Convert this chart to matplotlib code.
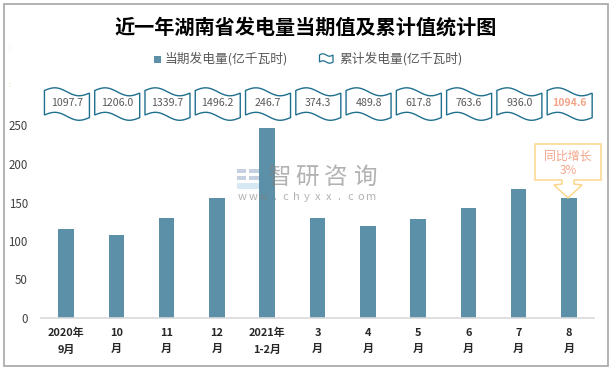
import numpy as np
import matplotlib
matplotlib.use("Agg")
import matplotlib.pyplot as plt
from matplotlib.patches import Polygon, Rectangle

plt.rcParams['font.family'] = ['Noto Sans CJK SC', 'DejaVu Sans']

title = "近一年湖南省发电量当期值及累计值统计图"
categories = ["2020年\n9月", "10\n月", "11\n月", "12\n月", "2021年\n1-2月", "3\n月", "4\n月", "5\n月", "6\n月", "7\n月", "8\n月"]
current = [115.5, 107.8, 130, 155.8, 246.7, 130, 119.5, 128.6, 143, 167.5, 155.8]
cumulative = ["1097.7", "1206.0", "1339.7", "1496.2", "246.7", "374.3", "489.8", "617.8", "763.6", "936.0", "1094.6"]
yticks = [0, 50, 100, 150, 200, 250]

bar_color = "#5b90a8"
wave_color = "#1f6f8f"
text_gray = "#595959"
salmon = "#f4a58a"
yellow = "#fbd78c"
W, H = 613, 370

fig = plt.figure(figsize=(W / 100, H / 100), dpi=100)

# full figure overlay in pixels, for the decorations
ov = fig.add_axes([0, 0, 1, 1], zorder=0)
ov.set_xlim(0, W)
ov.set_ylim(H, 0)
ov.axis('off')
ov.add_patch(Rectangle((3.7, 4.3), 604.3, 361.7, fc='white', ec='#a6a6a6', lw=1.2))

for y in (48, 85):
    ov.text(9, y, ":", fontsize=5, color='#f0c890', ha='center', va='center')

ax = fig.add_axes([41 / W, 1 - 318 / H, 553 / W, 192.5 / H], zorder=1)
ax.patch.set_alpha(0)
x = np.arange(len(categories))
ax.bar(x, current, width=0.31, color=bar_color)
ax.set_xlim(-0.5, len(categories) - 0.5)
ax.set_ylim(0, 250)
ax.set_yticks(yticks)
ax.set_xticks(x)
ax.set_xticklabels(categories, fontsize=7.9, fontweight='bold', color='#262626', linespacing=1.8)
ax.tick_params(axis='y', length=0, labelsize=8.3, labelcolor='#404040', pad=9.5)
ax.tick_params(axis='x', length=0, pad=7)
for s in ('top', 'right', 'left'):
    ax.spines[s].set_visible(False)
ax.spines['bottom'].set_color('#d9d9d9')
ax.spines['bottom'].set_linewidth(1.2)

# wavy boxes above the bars, y given in px on the overlay
t = np.linspace(0, 1, 40)
wave = -3.3 * np.sin(2 * np.pi * t) + 2.6 * t


def px_x(i):
    return 41 + (i + 0.5) * 553 / len(categories)


def wave_box(ov_ax, cx, top, bottom, half=22.5):
    xs = cx - half + 2 * half * t
    upper = np.column_stack([xs, top + wave])
    lower = np.column_stack([xs, bottom + wave])[::-1]
    ov_ax.add_patch(Polygon(np.vstack([upper, lower]), closed=True, fc='white', ec=wave_color, lw=1.0, zorder=3))


for i, label in enumerate(cumulative):
    cx = px_x(i) + 0.8
    wave_box(ov, cx, 90.5, 115)
    last = i == len(cumulative) - 1
    ov.text(cx, 103, label, fontsize=7.6, color=salmon if last else text_gray,
            fontweight='bold' if last else 'normal', ha='center', va='center', zorder=4)

# legend
ov.add_patch(Rectangle((154, 56), 7, 7, fc=bar_color, ec='none'))
ov.text(165, 58.5, "当期发电量(亿千瓦时)", fontsize=9.2, color=text_gray, ha='left', va='center')
t_icon = np.linspace(0, 1, 20)
icon = -1.2 * np.sin(2 * np.pi * t_icon)
icon_x = 319.5 + 13.5 * t_icon
ov.add_patch(Polygon(np.vstack([np.column_stack([icon_x, 55 + icon]),
                                np.column_stack([icon_x, 62 + icon])[::-1]]),
                     closed=True, fc='white', ec=wave_color, lw=0.9))
ov.text(339, 58.5, "累计发电量(亿千瓦时)", fontsize=9.2, color=text_gray, ha='left', va='center')

ov.text(306, 27, title, fontsize=14.5, fontweight='bold', color='black', ha='center', va='center')

# callout and watermark, on top of everything
top_ov = fig.add_axes([0, 0, 1, 1], zorder=2)
top_ov.set_xlim(0, W)
top_ov.set_ylim(H, 0)
top_ov.axis('off')

for x0, y0, w0, h0, c in [(237, 169, 9, 4, '#9fb2cc'), (249, 169, 10, 4, '#9fb2cc'), (237, 176, 9, 4, '#9fb2cc'),
                          (249, 176, 10, 4, '#9fb2cc'), (237, 183, 22, 6, '#bcd9ee')]:
    top_ov.add_patch(Rectangle((x0, y0), w0, h0, fc=c, ec='none', alpha=0.6))
for i, ch in enumerate("智研咨询"):
    top_ov.text(279 + i * 28.5, 177, ch, fontsize=17, color='#808080', alpha=0.6, ha='center', va='center')
for i, ch in enumerate("www.chyxx.com"):
    top_ov.text(242 + i * 10.8, 197.5, ch, fontsize=8, color='#808080', alpha=0.6, ha='center', va='center')

callout = [(535, 144), (601, 144), (601, 180), (574, 180), (574, 184), (582, 185), (568, 198),
           (554, 185), (562, 184), (562, 180), (535, 180)]
top_ov.add_patch(Polygon(callout, closed=True, fc='white', ec=yellow, lw=1.1))
top_ov.text(568, 156, "同比增长", fontsize=8.6, color=salmon, ha='center', va='center')
top_ov.text(568, 171, "3%", fontsize=8.4, color=salmon, ha='center', va='center')

fig.savefig("out.png", dpi=100)
